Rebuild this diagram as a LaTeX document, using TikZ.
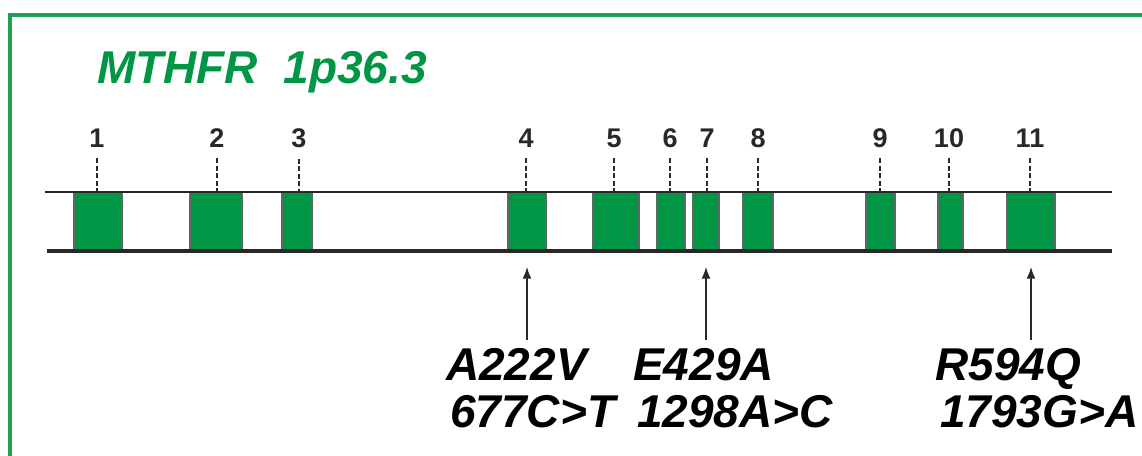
\documentclass[tikz,border=0pt]{standalone}
\usepackage{fontspec}
\setmainfont{Liberation Sans}
\usetikzlibrary{arrows.meta}
\definecolor{titlegreen}{RGB}{0,150,70}
\definecolor{exongreen}{RGB}{0,150,70}
\definecolor{framegreen}{RGB}{30,160,85}
\definecolor{darkline}{RGB}{40,40,40}
\definecolor{exonedge}{RGB}{95,105,100}
\tikzset{
  exon/.style={rectangle, fill=exongreen, draw=exonedge, line width=1.2pt, minimum height=58pt, inner sep=0pt},
  exlabel/.style={anchor=base, inner sep=0pt, text=darkline, font=\fontsize{27}{30}\selectfont\bfseries},
  dashline/.style={draw=darkline, line width=2.6pt, dash pattern=on 5pt off 2.5pt},
  geneline/.style={draw=darkline},
  mutarrow/.style={draw=darkline, line width=2.2pt, -{Latex[length=12pt,width=9pt]}, shorten >=16pt, shorten <=8pt},
  mutlabel/.style={anchor=base west, inner sep=0pt, font=\fontsize{46}{50}\selectfont\bfseries\itshape},
  frameline/.style={draw=framegreen, line width=4pt},
}
\begin{document}
\begin{tikzpicture}[x=1pt, y=-1pt]
\useasboundingbox (0,0) rectangle (1142,455);
% frame
\draw[frameline] (9.5,460) -- (9.5,15) -- (1150,15);
% title
\node[anchor=base west, inner sep=0pt, text=titlegreen, font=\fontsize{46}{50}\selectfont\bfseries\itshape] (title) at (97,83) {MTHFR\ \ 1p36.3};
% exons
\node[exon, minimum width=48pt] (e1) at (98,221) {};
\node[exon, minimum width=52pt] (e2) at (216,221) {};
\node[exon, minimum width=30pt] (e3) at (297,221) {};
\node[exon, minimum width=38pt] (e4) at (527,221) {};
\node[exon, minimum width=46pt] (e5) at (616,221) {};
\node[exon, minimum width=28pt] (e6) at (671,221) {};
\node[exon, minimum width=26pt] (e7) at (706,221) {};
\node[exon, minimum width=30pt] (e8) at (758,221) {};
\node[exon, minimum width=29pt] (e9) at (880.5,221) {};
\node[exon, minimum width=25pt] (e10) at (950.5,221) {};
\node[exon, minimum width=48pt] (e11) at (1031,221) {};
% gene lines
\coordinate (tl) at (45,192);
\coordinate (tr) at (1112,192);
\coordinate (bl) at (47,251);
\coordinate (br) at (1112,251);
\draw[geneline, line width=2.5pt] (tl) -- (tr);
\draw[geneline, line width=3.5pt] (bl) -- (br);
% exon labels
\node[exlabel] (l1) at (97,147) {1};
\node[exlabel] (l2) at (217,147) {2};
\node[exlabel] (l3) at (299,147) {3};
\node[exlabel] (l4) at (526,147) {4};
\node[exlabel] (l5) at (614,147) {5};
\node[exlabel] (l6) at (670,147) {6};
\node[exlabel] (l7) at (707,147) {7};
\node[exlabel] (l8) at (758,147) {8};
\node[exlabel] (l9) at (880,147) {9};
\node[exlabel] (l10) at (949,147) {10};
\node[exlabel] (l11) at (1030,147) {11};
\foreach \i in {1,...,11}{
  \draw[dashline] ([yshift=-11pt]l\i.south) -- (l\i.south |- e\i.north);
}
% mutation labels
\node[mutlabel] (m1a) at (446,380) {A222V};
\node[mutlabel] (m1b) at (450,427) {677C>T};
\node[mutlabel] (m2a) at (633,380) {E429A};
\node[mutlabel] (m2b) at (637,427) {1298A>C};
\node[mutlabel] (m3a) at (935,380) {R594Q};
\node[mutlabel] (m3b) at (940,427) {1793G>A};
% arrows
\draw[mutarrow] (m1a.north -| e4.south) -- (e4.south);
\draw[mutarrow] (m2a.north -| e7.south) -- (e7.south);
\draw[mutarrow] (m3a.north -| e11.south) -- (e11.south);
\end{tikzpicture}
\end{document}
